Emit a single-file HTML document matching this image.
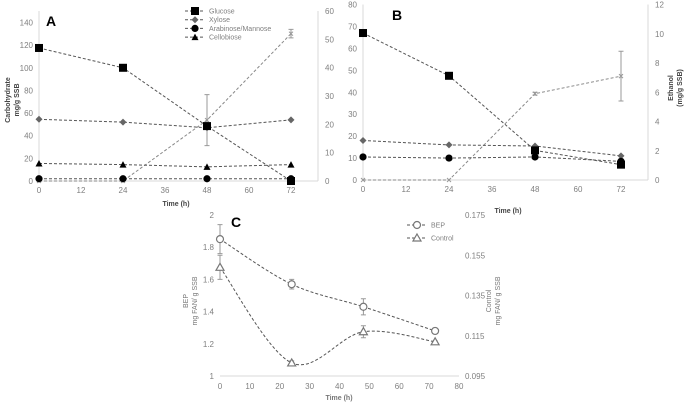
<!DOCTYPE html>
<html><head><meta charset="utf-8"><style>
body{margin:0;background:#fff}
svg{display:block;font-family:"Liberation Sans",sans-serif}
</style></head><body>
<svg id="s" width="685" height="403" viewBox="0 0 685 403"></svg>
<script>
const hours=[0,24,48,72];
// Panel A (mg/g SSB)
const aGlucose=[117.5,100,48.5,0];
const aXylose=[54.5,52,47,54];
const aArab=[2,2,2,2];
const aCello=[15.5,14.5,12.5,14.5];
const aEthanol=[0,0,21.5,52];
const aEthanolErr=[0,0,9,1.5];
// Panel B
const bGlucose=[67,47.5,13.5,7];
const bXylose=[18,16,15.5,11];
const bArab=[10.5,10,10.5,8.5];
const bEthanol=[0,0,5.9,7.1];
const bEthanolErr=[0,0,0.1,1.7];
// Panel C
const cHours=[0,24,48,72];
const cBEP=[1.85,1.57,1.43,1.28];
const cBEPErr=[0.09,0.03,0.05,0.005];
const cControl=[0.149,0.1015,0.117,0.112];
const cControlErr=[0.006,0.001,0.003,0.0005];
const aXTicks=[0,12,24,36,48,60,72];
const aYTicks=[0,20,40,60,80,100,120,140];
const aY2Ticks=[0,10,20,30,40,50,60];
const bYTicks=[0,10,20,30,40,50,60,70,80];
const bY2Ticks=[0,2,4,6,8,10,12];
const cXTicks=[0,10,20,30,40,50,60,70,80];
const cYTicks=[1,1.2,1.4,1.6,1.8,2];
const cY2Ticks=[0.095,0.115,0.135,0.155,0.175];

const S=document.getElementById('s');const NS='http://www.w3.org/2000/svg';
function el(t,a,txt){const e=document.createElementNS(NS,t);for(const k in a)e.setAttribute(k,a[k]);if(txt!==undefined)e.textContent=txt;S.appendChild(e);return e;}
function lin(d0,d1,r0,r1){return v=>r0+(v-d0)/(d1-d0)*(r1-r0);}
const GR='#d9d9d9',TX='#7f7f7f';

function marker(kind,x,y,name){
  let e;
  if(kind==='sq')e=el('rect',{x:x-4,y:y-4,width:8,height:8,fill:'#000'});
  else if(kind==='dia')e=el('polygon',{points:`${x},${y-3.5} ${x+3.5},${y} ${x},${y+3.5} ${x-3.5},${y}`,fill:'#666'});
  else if(kind==='dot')e=el('circle',{cx:x,cy:y,r:3.6,fill:'#000'});
  else if(kind==='tri')e=el('polygon',{points:`${x},${y-3.5} ${x+3.5},${y+3} ${x-3.5},${y+3}`,fill:'#000'});
  else if(kind==='x')e=el('path',{d:`M${x-2},${y-2}L${x+2},${y+2}M${x+2},${y-2}L${x-2},${y+2}`,stroke:'#999','stroke-width':1});
  else if(kind==='ocirc')e=el('circle',{cx:x,cy:y,r:3.5,fill:'#fff',stroke:'#777','stroke-width':1.2});
  else if(kind==='otri')e=el('polygon',{points:`${x},${y-4} ${x+4},${y+3} ${x-4},${y+3}`,fill:'#fff',stroke:'#777','stroke-width':1.2});
  
  
}
function series(xs,ys,X,Y,kind,name,col){
  const p=el('polyline',{points:xs.map((h,i)=>X(h)+','+Y(ys[i])).join(' '),fill:'none',stroke:col||'#555','stroke-width':1,'stroke-dasharray':'3,2'});
  
  
  xs.forEach((h,i)=>marker(kind,X(h),Y(ys[i]),name+'-point'));
}
function errbars(xs,ys,es,X,Y,name){
  xs.forEach((h,i)=>{if(!es[i])return;const x=X(h),y1=Y(ys[i]-es[i]),y2=Y(ys[i]+es[i]);
    const e=el('path',{d:`M${x},${y1}V${y2}M${x-2.5},${y1}h5M${x-2.5},${y2}h5`,stroke:'#999','stroke-width':1,fill:'none'});
    
    });
}
function axes(X,Y,Y2,xt,yt,y2t,x0,x1,yb,yt0,fmt2){
  el('line',{x1:X(xt[0]),y1:yb,x2:X(xt[0]),y2:yt0,stroke:GR});
  el('line',{x1:x0,y1:yb,x2:x1,y2:yb,stroke:GR});
  el('line',{x1:x1,y1:yb,x2:x1,y2:yt0,stroke:GR});
  xt.forEach(t=>el('text',{x:X(t),y:yb+12,'font-size':8,fill:TX,'text-anchor':'middle'},t));
  yt.forEach(t=>el('text',{x:X(xt[0])-6,y:Y(t)+3,'font-size':8,fill:TX,'text-anchor':'end'},t));
  y2t.forEach(t=>el('text',{x:x1+7,y:Y2(t)+3,'font-size':8,fill:TX},fmt2?fmt2(t):t));
}

// Panel A
{const X=lin(0,72,39,291),Y=lin(0,140,181,22.5),Y2=lin(0,60,181,11);
axes(X,Y,Y2,aXTicks,aYTicks,aY2Ticks,39,318,181,11);
el('text',{x:46,y:26,'font-size':14,'font-weight':'bold',fill:'#000'},'A');
el('text',{x:176,y:206,'font-size':7,'font-weight':'bold',fill:'#444','text-anchor':'middle'},'Time (h)');
el('text',{transform:'translate(10,100) rotate(-90)','font-size':7,'font-weight':'bold',fill:'#444','text-anchor':'middle'},'Carbohydrate');
el('text',{transform:'translate(19,100) rotate(-90)','font-size':7,'font-weight':'bold',fill:'#444','text-anchor':'middle'},'mg/g SSB');
series(hours,aEthanol,X,Y2,'x','a-ethanol','#888');
errbars(hours,aEthanol,aEthanolErr,X,Y2,'a-ethanol');
series(hours,aXylose,X,Y,'dia','a-xylose');
series(hours,aCello,X,Y,'tri','a-cellobiose');
series(hours,aArab,X,Y,'dot','a-arabinose');
series(hours,aGlucose,X,Y,'sq','a-glucose');
const leg=[['sq','Glucose'],['dia','Xylose'],['dot','Arabinose/Mannose'],['tri','Cellobiose']];
leg.forEach((l,i)=>{const y=11+i*8.7;
 el('line',{x1:185,y1:y,x2:205,y2:y,stroke:'#555','stroke-dasharray':'3,2'});
 marker(l[0],195,y,'legend-marker');
 el('text',{x:209,y:y+2.5,'font-size':7,fill:TX},l[1]);});
}
// Panel B
{const X=lin(0,72,363,621),Y=lin(0,80,180,4.5),Y2=lin(0,12,180,4.5);
axes(X,Y,Y2,aXTicks,bYTicks,bY2Ticks,363,648,180,4.5);
el('text',{x:392,y:20,'font-size':14,'font-weight':'bold',fill:'#000'},'B');
el('text',{x:508,y:213,'font-size':7,'font-weight':'bold',fill:'#444','text-anchor':'middle'},'Time (h)');
el('text',{transform:'translate(673,88) rotate(-90)','font-size':7,'font-weight':'bold',fill:'#444','text-anchor':'middle'},'Ethanol');
el('text',{transform:'translate(682,88) rotate(-90)','font-size':7,'font-weight':'bold',fill:'#444','text-anchor':'middle'},'(mg/g SSB)');
series(hours,bEthanol,X,Y2,'x','b-ethanol','#888');
errbars(hours,bEthanol,bEthanolErr,X,Y2,'b-ethanol');
series(hours,bXylose,X,Y,'dia','b-xylose');
series(hours,bArab,X,Y,'dot','b-arabinose');
series(hours,bGlucose,X,Y,'sq','b-glucose');
}
// Panel C
{const X=lin(0,80,220,459),Y=lin(1,2,376,215),Y2=lin(0.095,0.175,376,215);
el('line',{x1:220,y1:376,x2:459,y2:376,stroke:GR});
cXTicks.forEach(t=>el('text',{x:X(t),y:389,'font-size':8,fill:TX,'text-anchor':'middle'},t));
cYTicks.forEach(t=>el('text',{x:214,y:Y(t)+3,'font-size':8,fill:TX,'text-anchor':'end'},t));
cY2Ticks.forEach(t=>el('text',{x:465,y:Y2(t)+3,'font-size':8,fill:TX},t));
el('text',{x:231,y:227,'font-size':14,'font-weight':'bold',fill:'#000'},'C');
el('text',{x:339,y:400,'font-size':7,'font-weight':'bold',fill:'#777','text-anchor':'middle'},'Time (h)');
el('text',{transform:'translate(188,301) rotate(-90)','font-size':7,fill:'#777','text-anchor':'middle'},'BEP');
el('text',{transform:'translate(197,301) rotate(-90)','font-size':7,fill:'#777','text-anchor':'middle'},'mg FAN/ g SSB');
el('text',{transform:'translate(491,301) rotate(-90)','font-size':7,fill:'#777','text-anchor':'middle'},'Control');
el('text',{transform:'translate(500,301) rotate(-90)','font-size':7,fill:'#777','text-anchor':'middle'},'mg FAN/ g SSB');
function smooth(pts){let d=`M${pts[0][0]},${pts[0][1]}`;for(let i=0;i<pts.length-1;i++){const p0=pts[Math.max(0,i-1)],p1=pts[i],p2=pts[i+1],p3=pts[Math.min(pts.length-1,i+2)];
 d+=`C${p1[0]+(p2[0]-p0[0])/6},${p1[1]+(p2[1]-p0[1])/6} ${p2[0]-(p3[0]-p1[0])/6},${p2[1]-(p3[1]-p1[1])/6} ${p2[0]},${p2[1]}`;}return d;}
const bp=cHours.map((h,i)=>[X(h),Y(cBEP[i])]);
const l1=el('path',{d:smooth(bp),fill:'none',stroke:'#555','stroke-dasharray':'3,2'});


const cp=cHours.map((h,i)=>[X(h),Y2(cControl[i])]);
const l2=el('path',{d:smooth(cp),fill:'none',stroke:'#555','stroke-dasharray':'3,2'});


errbars(cHours,cBEP,cBEPErr,X,Y,'bep');
errbars(cHours,cControl,cControlErr,X,Y2,'control');
cHours.forEach((h,i)=>marker('ocirc',X(h),Y(cBEP[i]),'bep-point'));
cHours.forEach((h,i)=>marker('otri',X(h),Y2(cControl[i]),'control-point'));
[['ocirc','BEP'],['otri','Control']].forEach((l,i)=>{const y=225+i*13;
 el('line',{x1:407,y1:y,x2:427,y2:y,stroke:'#555','stroke-dasharray':'3,2'});
 marker(l[0],417,y,'legend-marker');
 el('text',{x:431,y:y+2.5,'font-size':7,fill:TX},l[1]);});
}
</script>
</body></html>
